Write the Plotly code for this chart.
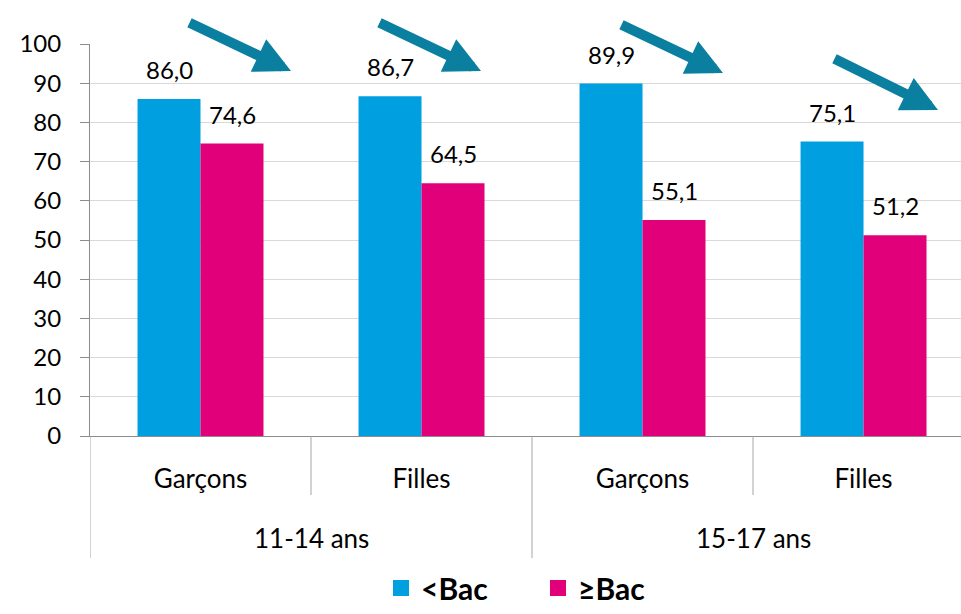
import plotly.graph_objects as go

ages = ["11-14 ans", "15-17 ans"]
sexes = ["Garçons", "Filles", "Garçons", "Filles"]
below_bac = [86.0, 86.7, 89.9, 75.1]
above_bac = [74.6, 64.5, 55.1, 51.2]
series_names = ["<Bac", "≥Bac"]
colors = ["#009FE0", "#E2007A"]
y_ticks = list(range(0, 101, 10))

FONT = "Lato"
W, H = 961, 614
L, R, T, B = 90, 0, 44, 178
pw, ph = W - L - R, H - T - B
BARGAP = 0.43

idx = list(range(len(sexes)))
fig = go.Figure()
half = (1 - BARGAP) / 2
for k, (name, vals, col) in enumerate(zip(series_names, [below_bac, above_bac], colors)):
    fig.add_trace(go.Bar(x=idx, y=vals, name=name, marker_color=col,
                         marker_line_width=0, showlegend=False))
    fig.add_trace(go.Scatter(x=[None], y=[None], mode="markers", name=name,
                             marker=dict(symbol="square", size=20, color=col),
                             showlegend=True))
    off = (k - 0.5) * half
    for i, v in zip(idx, vals):
        fig.add_annotation(x=i + off, y=v, xref="x", yref="y", text=f"{v:.1f}".replace(".", ","),
                           showarrow=False, yanchor="bottom", yshift=13,
                           font=dict(family=FONT, size=24, color="black"))

# inner separators between sexes, and long dividers between age groups
n_per_group = len(sexes) // len(ages)
for b in range(len(sexes) + 1):
    xpos = b - 0.5
    long = (b % n_per_group == 0)
    fig.add_shape(type="line", xref="x", yref="paper", x0=xpos, x1=xpos,
                  y0=0, y1=(-(558 - 436) if long else -(495 - 436)) / ph,
                  line=dict(color="#A6A6A6", width=1))
for g, age in enumerate(ages):
    fig.add_annotation(x=g * n_per_group + (n_per_group - 1) / 2, y=-(538 - 436) / ph,
                       xref="x", yref="paper", text=age, showarrow=False, yanchor="middle",
                       font=dict(family=FONT, size=26, color="black"))

# decorative trend arrows (tip, tail) in pixels
arrows = [((291, 71), (188, 22)), ((481, 71), (378, 22)),
          ((723, 73), (620, 24)), ((938, 110), (833, 58))]
for (tx, ty), (sx, sy) in arrows:
    fig.add_annotation(
        xref="paper", yref="paper",
        x=(tx - L) / pw, y=(H - B - ty) / ph,
        ax=sx - tx, ay=sy - ty, axref="pixel", ayref="pixel",
        showarrow=True, arrowhead=2, arrowwidth=10, arrowsize=0.72,
        arrowcolor="#0A7FA0", text="",
    )

fig.update_layout(
    width=W, height=H, margin=dict(l=L, r=R, t=T, b=B),
    plot_bgcolor="white", paper_bgcolor="white",
    barmode="group", bargap=BARGAP, bargroupgap=0,
    font=dict(family=FONT, size=24, color="black"),
    legend=dict(orientation="h", xref="container", x=538 / W, xanchor="center",
                yref="container", y=0, yanchor="bottom",
                font=dict(family=FONT, size=30, color="black", weight="bold"),
                entrywidth=112, itemsizing="trace"),
)
fig.update_yaxes(range=[0, 100], tickvals=y_ticks, showgrid=True, gridcolor="#D9D9D9",
                 gridwidth=1, showline=True, linecolor="#8C8C8C", linewidth=1,
                 ticks="outside", ticklen=9, tickcolor="#8C8C8C", zeroline=False,
                 ticklabelstandoff=14, tickfont=dict(family=FONT, size=24))
fig.update_xaxes(range=[-0.5, 3.441], tickvals=idx, ticktext=sexes, showgrid=False,
                 showline=True, linecolor="#8C8C8C", linewidth=1, ticks="",
                 zeroline=False, ticklabelstandoff=20,
                 tickfont=dict(family=FONT, size=26))

fig.write_html("out.html")
